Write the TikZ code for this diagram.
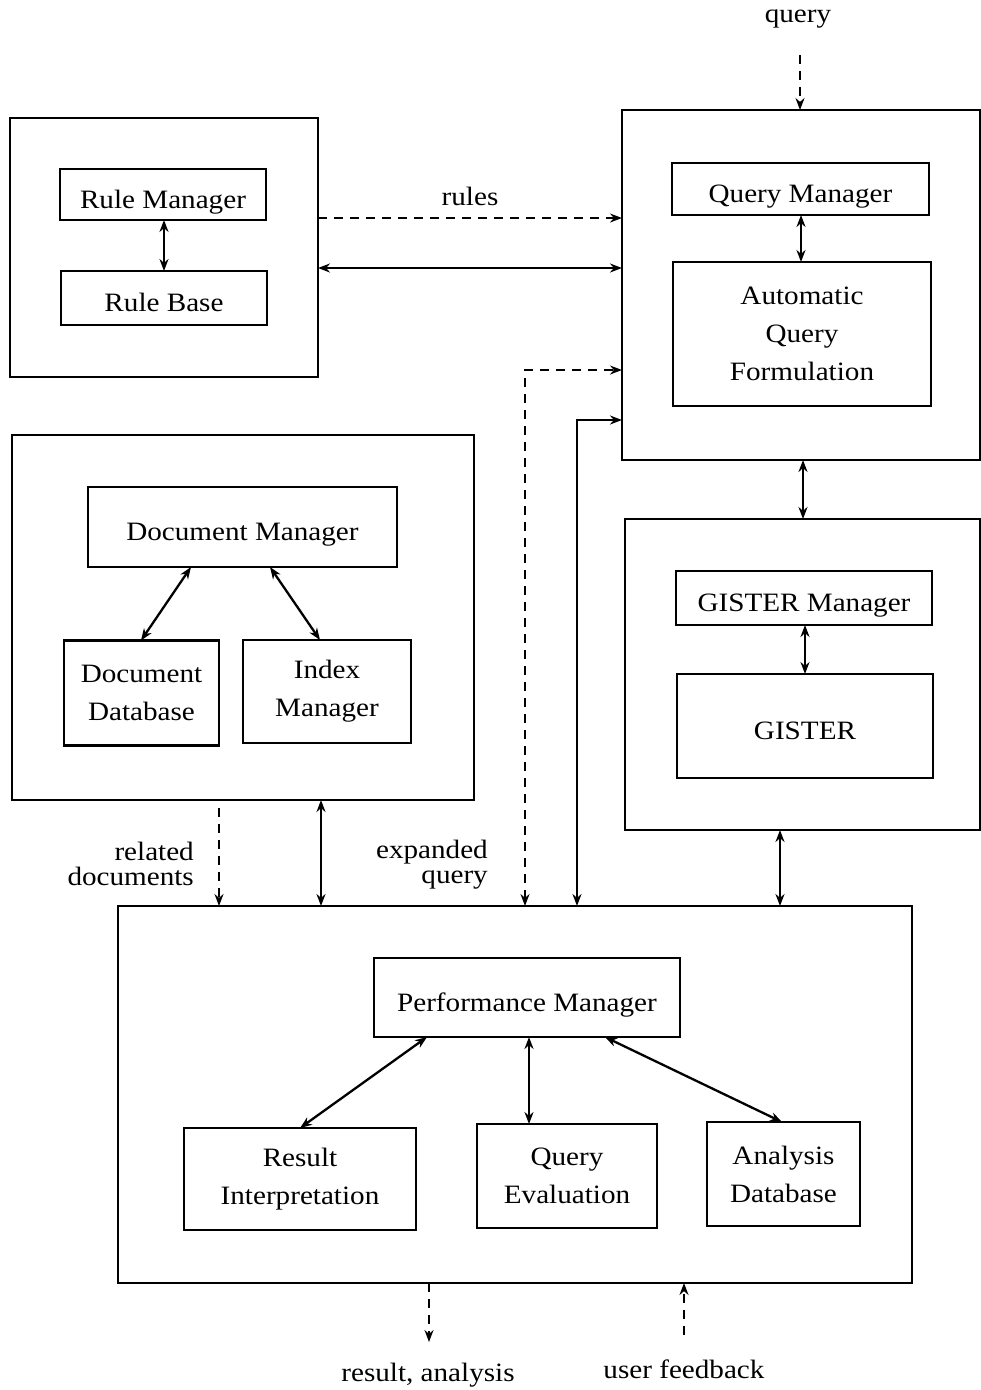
\documentclass[tikz,border=0pt]{standalone}
\usepackage{fontspec}
\setmainfont{Liberation Serif}[FakeStretch=1.1]
\usetikzlibrary{arrows.meta}
\begin{document}
\begin{tikzpicture}[x=1pt,y=-1pt,
  box/.style={draw,line width=2.7pt,inner sep=0pt,outer sep=0pt,align=center,
    font=\fontsize{26.5}{38}\selectfont},
  one/.style={text height=27pt,text depth=0pt},
  outer/.style={draw,line width=2.7pt,inner sep=0pt,outer sep=0pt},
  con/.style={line width=2.3pt,{Stealth[length=12pt,width=9pt]}-{Stealth[length=12pt,width=9pt]}},
  dsh/.style={line width=1.5pt,dash pattern=on 9pt off 7pt,-{Stealth[length=12pt,width=9pt]}},
  dshb/.style={line width=1.5pt,dash pattern=on 9pt off 7pt,{Stealth[length=12pt,width=9pt]}-{Stealth[length=12pt,width=9pt]}},
  lbl/.style={inner sep=0pt,align=center,font=\fontsize{26.5}{25}\selectfont}]
\useasboundingbox (0,0) rectangle (981,1390);
% outer boxes
\node[outer,minimum width=308pt,minimum height=259pt] (ro) at (164,247.5) {};
\node[outer,minimum width=358pt,minimum height=350pt] (qo) at (801,285) {};
\node[outer,minimum width=462pt,minimum height=365pt] (do) at (243,617.5) {};
\node[outer,minimum width=355pt,minimum height=311pt] (go) at (802.5,674.5) {};
\node[outer,minimum width=794pt,minimum height=377pt] (po) at (515,1094.5) {};
% inner boxes
\node[box,one,minimum width=206pt,minimum height=51pt] (rm) at (163,194.5) {Rule Manager};
\node[box,one,minimum width=206pt,minimum height=54pt] (rb) at (164,298) {Rule Base};
\node[box,one,minimum width=257pt,minimum height=52pt] (qm) at (800.5,189) {Query Manager};
\node[box,minimum width=258pt,minimum height=144pt] (aqf) at (802,334) {Automatic\\Query\\Formulation};
\node[box,one,minimum width=309pt,minimum height=80pt] (dm) at (242.5,527) {Document Manager};
\node[box,minimum width=155pt,minimum height=105pt] (dd) at (141.5,693) {Document\\Database};
\node[box,minimum width=168pt,minimum height=103pt] (im) at (327,691.5) {Index\\Manager};
\node[box,one,minimum width=256pt,minimum height=54pt] (gm) at (804,598) {GISTER Manager};
\node[box,one,minimum width=256pt,minimum height=104pt] (gi) at (805,726) {GISTER};
\node[box,one,minimum width=306pt,minimum height=79pt] (pm) at (527,997.5) {Performance Manager};
\node[box,minimum width=232pt,minimum height=102pt] (ri) at (300,1179) {Result\\Interpretation};
\node[box,minimum width=180pt,minimum height=104pt] (qe) at (567,1176) {Query\\Evaluation};
\node[box,minimum width=153pt,minimum height=104pt] (ad) at (783.5,1174) {Analysis\\Database};
% labels
\node[lbl,anchor=base] (lq) at (798,22) {query};
\node[lbl,anchor=base] (lr) at (470,205) {rules};
\node[lbl,align=right,anchor=base east] (lrd) at (194,885) {related\\documents};
\node[lbl,align=right,anchor=base east] (leq) at (488,883) {expanded\\query};
\node[lbl,anchor=base] (lra) at (428,1381) {result, analysis};
\node[lbl,anchor=base] (luf) at (684,1378) {user feedback};
% free ends
\coordinate (qtop) at (800,55);
\coordinate (rdtop) at (219,808);
\coordinate (raend) at (429,1342);
\coordinate (ufst) at (684,1335);
% inner connectors
\draw[con] (rm.south -| 164,0) -- (rb.north -| 164,0);
\draw[con] (qm.south -| 801,0) -- (aqf.north -| 801,0);
\draw[con] (gm.south -| 805,0) -- (gi.north -| 805,0);
\draw[con] (dm.south -| 191,0) -- (dd.north -| 141,0);
\draw[con] (dm.south -| 270,0) -- (im.north -| 320,0);
\draw[con] (pm.south -| 427,0) -- (ri.north -| 300,0);
\draw[con] (pm.south -| 529,0) -- (qe.north -| 529,0);
\draw[con] (pm.south -| 605,0) -- (ad.north -| 782,0);
% outer connectors
\draw[dsh] (ro.east |- 0,218) -- (qo.west |- 0,218);
\draw[con] (ro.east |- 0,268) -- (qo.west |- 0,268);
\draw[dshb] (po.north -| 525,0) |- (qo.west |- 0,370);
\draw[con] (po.north -| 577,0) |- (qo.west |- 0,420);
\draw[con] (qo.south -| 803,0) -- (go.north -| 803,0);
\draw[con] (go.south -| 780,0) -- (po.north -| 780,0);
\draw[con] (do.south -| 321,0) -- (po.north -| 321,0);
\draw[dsh] (rdtop) -- (po.north -| rdtop);
\draw[dsh] (qtop) -- (qo.north -| qtop);
\draw[dsh] (po.south -| raend) -- (raend);
\draw[dsh] (ufst) -- (po.south -| ufst);
\end{tikzpicture}
\end{document}
